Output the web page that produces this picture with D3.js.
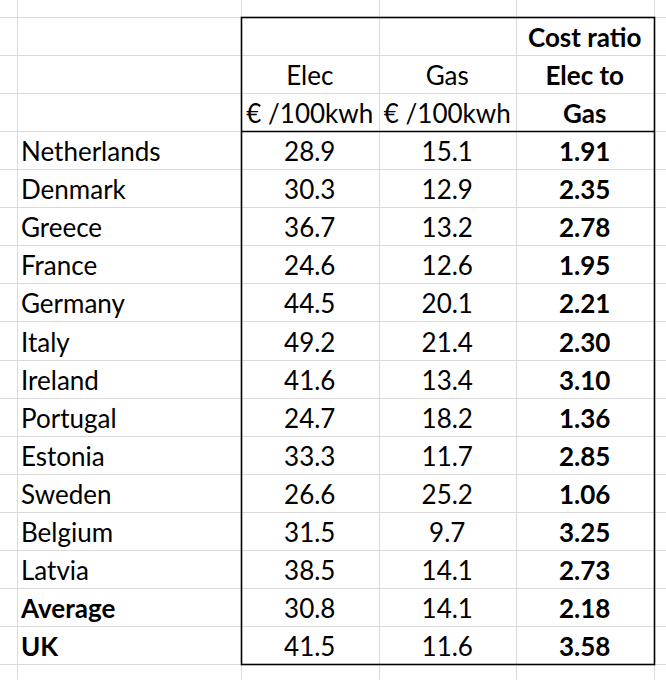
<!DOCTYPE html>
<html>
<head>
<meta charset="utf-8">
<style>
  body { margin: 0; background: #fff; }
  svg { display: block; }
  text { font-family: Lato, "Noto Sans", sans-serif; font-size: 26px; fill: #000; }
  .b { font-weight: bold; }
</style>
</head>
<body>
<div id="table-container"></div>
<script src="https://d3js.org/d3.v7.min.js"></script>
<script>
// values
const countries = ["Netherlands", "Denmark", "Greece", "France", "Germany", "Italy", "Ireland",
  "Portugal", "Estonia", "Sweden", "Belgium", "Latvia", "Average", "UK"];
const elec = [28.9, 30.3, 36.7, 24.6, 44.5, 49.2, 41.6, 24.7, 33.3, 26.6, 31.5, 38.5, 30.8, 41.5];
const gas = [15.1, 12.9, 13.2, 12.6, 20.1, 21.4, 13.4, 18.2, 11.7, 25.2, 9.7, 14.1, 14.1, 11.6];
const ratio = [1.91, 2.35, 2.78, 1.95, 2.21, 2.30, 3.10, 1.36, 2.85, 1.06, 3.25, 2.73, 2.18, 3.58];
const boldRows = ["Average", "UK"];

const headers = [
  ["Elec", "€ /100kwh"],
  ["Gas", "€ /100kwh"],
  ["Cost ratio", "Elec to", "Gas"]
];
const colKeys = ["elec", "gas", "ratio"];

const width = 666, height = 680;

const svg = d3.select("#table-container").append("svg")
  .attr("width", width)
  .attr("height", height);

// rows: 1 blank row on top, 3 header rows, 14 data rows
const y = d3.scaleLinear().domain([0, 17]).range([17, 664]);
const x = d3.scaleBand().domain(colKeys).range([241, 653.5]);
const labelX = 17;
const base = 8; // baseline offset from the row's bottom line

// grid lines
const grid = svg.append("g").attr("stroke", "#dadada").attr("stroke-width", 1);
grid.selectAll("line.h")
  .data(d3.range(-1, 19))
  .join("line")
  .attr("class", "h")
  .attr("x1", 0).attr("x2", width)
  .attr("y1", d => Math.round(y(d)) + 0.5)
  .attr("y2", d => Math.round(y(d)) + 0.5);
grid.selectAll("line.v")
  .data([labelX, ...colKeys.map(k => x(k)), x.range()[1]])
  .join("line")
  .attr("class", "v")
  .attr("y1", 0).attr("y2", height)
  .attr("x1", d => Math.round(d) + 0.5)
  .attr("x2", d => Math.round(d) + 0.5);

// header text (bottom aligned within the 3 header rows)
const head = svg.append("g").attr("text-anchor", "middle");
headers.forEach((lines, c) => {
  lines.forEach((t, i) => {
    const r = 3 - lines.length + i;
    head.append("text")
      .attr("class", c === 2 ? "b" : null)
      .attr("x", x(colKeys[c]) + x.bandwidth() / 2)
      .attr("y", y(r + 1) - base)
      .text(t);
  });
});

// body
const rows = svg.append("g").selectAll("g")
  .data(countries.map((c, i) => ({ name: c, elec: elec[i], gas: gas[i], ratio: ratio[i], i })))
  .join("g")
  .attr("transform", d => `translate(0,${y(d.i + 4) - base})`);

rows.append("text")
  .attr("x", labelX + 4)
  .attr("class", d => boldRows.includes(d.name) ? "b" : null)
  .text(d => d.name);

rows.selectAll("text.v")
  .data(d => colKeys.map(k => ({ k, v: d[k] })))
  .join("text")
  .attr("class", d => d.k === "ratio" ? "v b" : "v")
  .attr("text-anchor", "middle")
  .attr("x", d => x(d.k) + x.bandwidth() / 2)
  .text(d => d.k === "ratio" ? d.v.toFixed(2) : d.v.toFixed(1));

// black border round the table and under the header
const bx0 = Math.round(x.range()[0]) + 0.5, bx1 = Math.round(x.range()[1]) + 0.5;
const border = svg.append("g").attr("stroke", "#000").attr("stroke-width", 1.6).attr("fill", "none");
border.append("rect")
  .attr("x", bx0).attr("y", Math.round(y(0)) + 0.5)
  .attr("width", bx1 - bx0)
  .attr("height", Math.round(y(17)) - Math.round(y(0)));
border.append("line")
  .attr("x1", bx0).attr("x2", bx1)
  .attr("y1", Math.round(y(3)) + 0.5)
  .attr("y2", Math.round(y(3)) + 0.5);
</script>
</body>
</html>
